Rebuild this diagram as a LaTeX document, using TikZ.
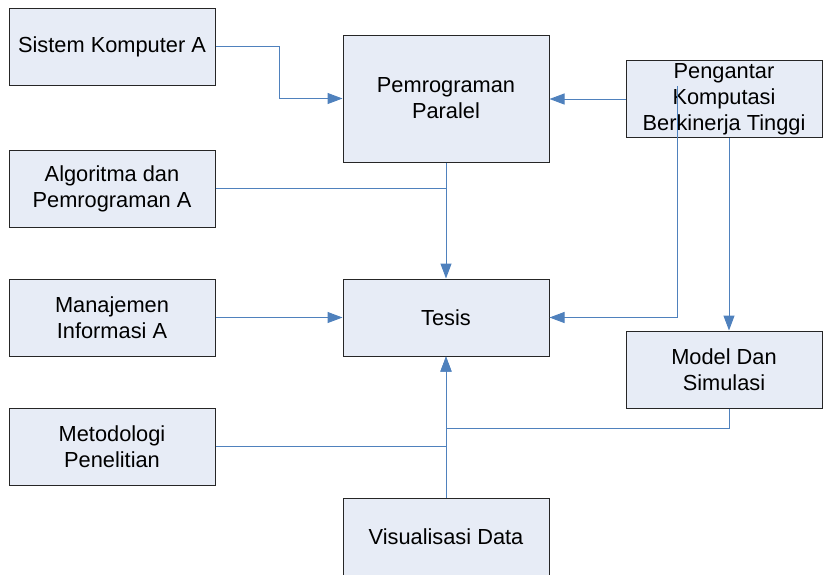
\documentclass[tikz,border=0pt]{standalone}
\usepackage{fontspec}
\setmainfont{Liberation Sans}
\usepackage{tikz}
\usetikzlibrary{arrows.meta,positioning,calc}

\definecolor{boxfill}{RGB}{231,236,246}
\definecolor{linkblue}{RGB}{79,129,189}

\begin{document}
\begin{tikzpicture}[
  x=1pt, y=-1pt,
  >={Triangle[length=15pt,width=11pt]},
  course/.style={draw=black!85, fill=boxfill, rectangle, line width=1pt,
                 minimum width=206pt, minimum height=77pt, inner sep=2pt,
                 align=center, font=\fontsize{21.8}{26}\selectfont},
  link/.style={linkblue, line width=1pt},
]
\clip (0,0) rectangle (823,574);
\useasboundingbox (0,0) rectangle (823,574);

%%---- Left column ---------------------------------------------------
\node[course] (sistem)     at (112, 46.5)  {Sistem Komputer A};
\node[course] (algoritma)  at (112, 188.5) {Algoritma dan\\Pemrograman A};
\node[course] (manajemen)  at (112, 317.5) {Manajemen\\Informasi A};
\node[course] (metodologi) at (112, 446.5) {Metodologi\\Penelitian};

%%---- Middle column -------------------------------------------------
\node[course, minimum height=127pt] (paralel) at (446, 98.5) {Pemrograman\\Paralel};
\node[course] (tesis)  at (446, 317.5) {Tesis};
\node[course] (visual) at (446, 537)   {Visualisasi Data};

%%---- Right column --------------------------------------------------
\node[course, minimum width=196pt] (pengantar) at (724, 99)
  {Pengantar\\Komputasi\\Berkinerja Tinggi};
\node[course, minimum width=196pt] (model) at (724, 369.5) {Model Dan\\Simulasi};

%%---- Links ---------------------------------------------------------
\draw[link, ->] (sistem.east) -- ++(64,0) |- (paralel.west);
\draw[link, ->] (pengantar.west) -- (pengantar.west -| paralel.east);
\draw[link, ->] (paralel.south) -- (tesis.north);
\draw[link] (algoritma.east) -- (algoritma.east -| tesis.north);
\draw[link, ->] (manajemen.east) -- (tesis.west);

% tap inside the Pengantar box down to Tesis
\coordinate (hpcTap) at ($(pengantar.south west)+(52,-52)$);
\draw[link, ->] (hpcTap) |- (tesis.east);
\draw[link, ->] ($(pengantar.south)+(5,0)$) -- ($(model.north)+(5,0)$);

% Model, Metodologi and Visualisasi join below Tesis
\draw[link, ->] ($(model.south)+(5,0)$) -- ++(0,20) -| (tesis.south);
\draw[link] (metodologi.east) -- (metodologi.east -| tesis.south);
\draw[link, ->] (visual.north) -- (tesis.south);

\end{tikzpicture}
\end{document}
